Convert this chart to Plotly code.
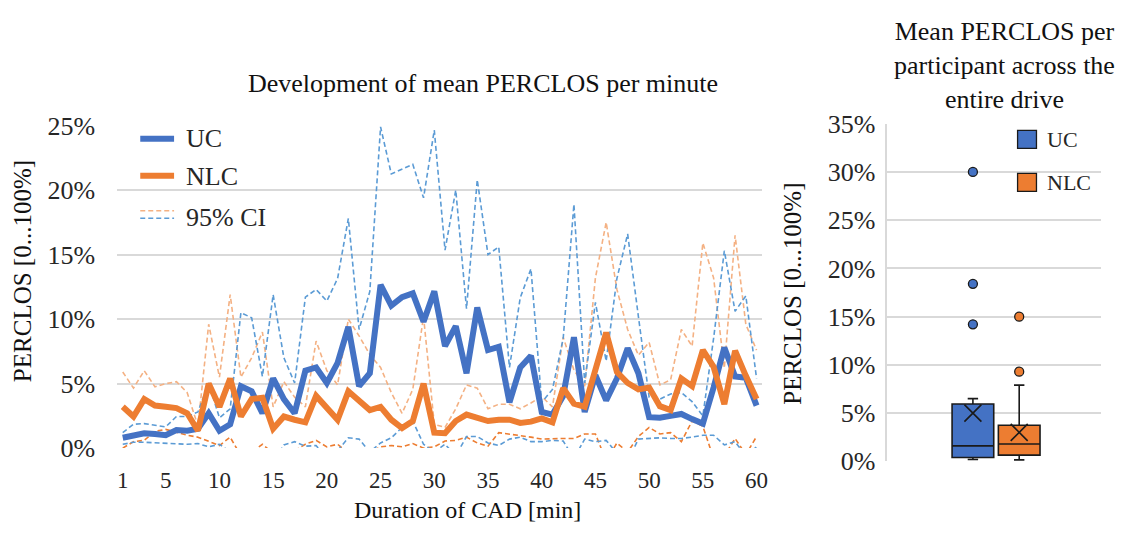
import plotly.graph_objects as go

W, H = 1131, 535
FONT = "Liberation Serif, Times New Roman, serif"
TXT = "#262626"
GRID = "#D9D9D9"
BLUE = "#4472C4"
ORANGE = "#ED7D31"
BLUE_CI = "#5B9BD5"
ORANGE_CI_HI = "#F4B183"

minutes = list(range(1, 61))

uc_mean = [0.8, 1.0, 1.15, 1.1, 1.0, 1.4, 1.35, 1.5, 2.7, 1.35,
           1.85, 4.8, 4.4, 2.7, 5.4, 3.8, 2.7, 6.0, 6.25, 5.05,
           6.6, 9.4, 4.8, 5.8, 12.65, 11.05, 11.7, 12.0, 9.8, 12.15,
           7.9, 9.45, 5.8, 10.9, 7.6, 7.85, 3.55, 6.25, 7.15, 2.8,
           2.6, 4.05, 8.6, 2.8, 5.65, 3.7, 5.4, 7.75, 5.8, 2.4,
           2.35, 2.5, 2.65, 2.25, 1.9, 4.7, 7.8, 5.55, 5.45, 3.3]

nlc_mean = [3.2, 2.45, 3.8, 3.3, 3.2, 3.1, 2.7, 1.35, 5.0, 3.2,
            5.4, 2.45, 3.8, 3.9, 1.5, 2.45, 2.2, 2.0, 4.05, 3.1,
            2.2, 4.4, 3.7, 2.95, 3.2, 2.2, 1.55, 2.1, 5.0, 1.2,
            1.15, 2.1, 2.6, 2.4, 2.1, 2.2, 2.2, 1.95, 2.05, 2.3,
            2.0, 4.65, 3.45, 3.2, 6.25, 8.95, 5.9, 5.05, 4.55, 4.7,
            3.25, 2.95, 5.4, 4.8, 7.6, 6.3, 3.4, 7.55, 5.6, 3.8]

uc_ci_upper = [1.2, 1.85, 1.9, 1.75, 1.65, 2.45, 2.45, 2.8, 5.05, 2.35,
               3.05, 10.5, 10.1, 5.55, 11.9, 7.0, 5.05, 11.7, 12.3, 11.4,
               13.15, 17.8, 9.2, 12.15, 24.9, 21.25, 21.6, 22.0, 19.4, 24.65,
               15.35, 20.0, 10.8, 20.8, 15.0, 15.6, 6.25, 11.65, 13.9, 3.55,
               4.55, 8.5, 18.9, 5.05, 11.3, 6.75, 13.15, 16.6, 10.2, 3.95,
               3.8, 4.2, 4.3, 3.6, 2.5, 8.5, 15.3, 10.6, 11.8, 5.4]

uc_ci_lower = [0.3, 0.45, 0.45, 0.4, 0.35, 0.3, 0.3, 0.35, 0.1, 0.3,
               -0.3, -0.9, -1.3, -0.1, -1.1, 0.25, 0.5, 0.15, 0.2, -0.8,
               -0.2, 0.8, 0.7, -0.3, 0.4, 0.8, 1.6, 2.1, 0.3, -0.3,
               0.3, -0.6, 0.9, 0.9, 0.4, 0.2, 0.7, 0.85, 0.5, 0.5,
               0.6, 0.55, -0.8, 0.7, 0.5, 0.6, -0.4, -1.0, 0.7, 0.75,
               0.8, 0.75, 0.75, 0.85, 1.0, 1.0, 0.25, 0.5, -0.6, 0.1]

nlc_ci_upper = [5.9, 4.65, 6.0, 4.75, 5.0, 5.15, 4.3, 1.7, 9.6, 5.5,
                11.9, 5.5, 7.0, 9.0, 3.2, 5.15, 3.95, 3.2, 8.3, 6.0,
                4.9, 10.0, 8.7, 7.25, 6.25, 4.3, 2.7, 4.55, 10.2, 1.85,
                1.6, 3.05, 4.9, 4.65, 3.05, 3.4, 3.4, 3.05, 3.5, 4.0,
                3.2, 8.6, 6.05, 4.8, 13.2, 17.5, 12.3, 9.2, 7.2, 8.2,
                4.9, 5.3, 9.2, 7.9, 15.9, 13.2, 6.2, 16.5, 9.6, 7.6]

nlc_ci_lower = [0.0, 0.5, 0.6, 1.3, 1.45, 1.2, 1.0, 0.85, 0.5, 0.2,
                0.85, -0.6, -0.3, 0.3, -0.4, -0.3, -0.2, 0.3, 0.6, 0.1,
                0.3, -0.4, -0.5, -0.3, 0.1, 0.2, 0.1, 0.35, 0.0, 0.1,
                0.55, 0.6, 0.85, 0.4, 0.15, 1.2, 1.1, 1.0, 0.85, 0.7,
                0.75, 0.75, 0.75, 1.1, 1.1, -1.0, 0.4, -0.3, 0.9, 1.6,
                1.1, 1.2, 0.5, 2.1, 1.7, -0.8, -0.6, 0.75, -0.5, 0.9]

x_ticks = [1, 5, 10, 15, 20, 25, 30, 35, 40, 45, 50, 55, 60]

# Per-participant summary (box plot statistics, in %)
groups = ["UC", "NLC"]
group_pos = [1, 2]
box_q1 = [0.4, 0.65]
box_median = [1.6, 1.8]
box_q3 = [5.95, 3.75]
box_lower = [0.2, 0.15]
box_upper = [6.5, 7.9]
box_mean = [5.0, 3.0]
uc_outliers = [14.2, 18.4, 30.0]
nlc_outliers = [9.3, 15.0]
box_colors = [BLUE, ORANGE]

CI_DASH = "5px,3px"


def px(x):
    return x / W


def py(y):
    return 1 - y / H


fig = go.Figure()

# confidence bands (dashed)
ci_series = [(nlc_ci_upper, ORANGE_CI_HI), (nlc_ci_lower, ORANGE),
             (uc_ci_upper, BLUE_CI), (uc_ci_lower, BLUE_CI)]
for vals, col in ci_series:
    fig.add_trace(go.Scatter(x=minutes, y=vals, mode="lines",
                             line=dict(color=col, width=1.6, dash=CI_DASH),
                             showlegend=False, xaxis="x", yaxis="y",
                             hoverinfo="skip"))

# mean lines
for vals, col in [(uc_mean, BLUE), (nlc_mean, ORANGE)]:
    fig.add_trace(go.Scatter(x=minutes, y=vals, mode="lines",
                             line=dict(color=col, width=6),
                             showlegend=False, xaxis="x", yaxis="y"))

# box plots
for i, g in enumerate(groups):
    fig.add_trace(go.Box(x=[group_pos[i]], q1=[box_q1[i]], median=[box_median[i]],
                         q3=[box_q3[i]], lowerfence=[box_lower[i]],
                         upperfence=[box_upper[i]], width=0.9,
                         fillcolor=box_colors[i],
                         line=dict(color="#1a1a1a", width=1.6),
                         whiskerwidth=0.25, boxpoints=False,
                         showlegend=False, xaxis="x2", yaxis="y2", name=g))
    fig.add_trace(go.Scatter(x=[group_pos[i]], y=[box_mean[i]], mode="markers",
                             marker=dict(symbol="x-thin", size=17,
                                         line=dict(color="#1a1a1a", width=1.6)),
                             showlegend=False, xaxis="x2", yaxis="y2"))

for pos, vals, col in [(group_pos[0], uc_outliers, BLUE), (group_pos[1], nlc_outliers, ORANGE)]:
    fig.add_trace(go.Scatter(x=[pos] * len(vals), y=vals, mode="markers",
                             marker=dict(symbol="circle", size=9, color=col,
                                         line=dict(color="#1a1a1a", width=1.3)),
                             showlegend=False, xaxis="x2", yaxis="y2"))

shapes = []
annotations = []

# left legend
shapes.append(dict(type="line", xref="paper", yref="paper", x0=px(141), x1=px(175),
                   y0=py(132), y1=py(132), line=dict(color=BLUE, width=6)))
shapes.append(dict(type="line", xref="paper", yref="paper", x0=px(141), x1=px(175),
                   y0=py(171), y1=py(171), line=dict(color=ORANGE, width=6)))
shapes.append(dict(type="line", xref="paper", yref="paper", x0=px(141), x1=px(175),
                   y0=py(208), y1=py(208),
                   line=dict(color=ORANGE_CI_HI, width=1.6, dash=CI_DASH)))
shapes.append(dict(type="line", xref="paper", yref="paper", x0=px(141), x1=px(175),
                   y0=py(216), y1=py(216),
                   line=dict(color=BLUE_CI, width=1.6, dash=CI_DASH)))
for label, yy in [("UC", 132), ("NLC", 172), ("95% CI", 215)]:
    annotations.append(dict(text=label, xref="paper", yref="paper", x=px(185), y=py(yy),
                            xanchor="left", yanchor="middle", showarrow=False,
                            font=dict(family=FONT, size=26, color=TXT)))

# right legend
for (label, col, yy) in [("UC", BLUE, 132.5), ("NLC", ORANGE, 178)]:
    shapes.append(dict(type="rect", xref="paper", yref="paper",
                       x0=px(1023), x1=px(1042), y0=py(yy - 9.5), y1=py(yy + 9.5),
                       fillcolor=col, line=dict(color="#1a1a1a", width=1.3)))
    annotations.append(dict(text=label, xref="paper", yref="paper", x=px(1051), y=py(yy),
                            xanchor="left", yanchor="middle", showarrow=False,
                            font=dict(family=FONT, size=22, color=TXT)))

# titles
annotations.append(dict(text="Development of mean PERCLOS per minute", xref="paper", yref="paper",
                        x=px(486), y=py(73), xanchor="center", yanchor="middle",
                        showarrow=False, font=dict(family=FONT, size=26, color="#111111")))
annotations.append(dict(text="Mean PERCLOS per<br>participant across the<br>entire drive",
                        xref="paper", yref="paper", x=px(1010), y=py(54), xanchor="center",
                        yanchor="middle", showarrow=False, align="center",
                        font=dict(family=FONT, size=26, color="#111111")))
annotations.append(dict(text="Duration of CAD [min]", xref="paper", yref="paper",
                        x=px(470), y=py(524), xanchor="center", yanchor="middle",
                        showarrow=False, font=dict(family=FONT, size=24, color="#111111")))
annotations.append(dict(text="PERCLOS [0...100%]", xref="paper", yref="paper",
                        x=px(22), y=py(272), xanchor="center", yanchor="middle", textangle=-90,
                        showarrow=False, font=dict(family=FONT, size=25, color="#111111")))
annotations.append(dict(text="PERCLOS [0...100%]", xref="paper", yref="paper",
                        x=px(797), y=py(296), xanchor="center", yanchor="middle", textangle=-90,
                        showarrow=False, font=dict(family=FONT, size=25, color="#111111")))

tickfont = dict(family=FONT, size=26, color=TXT)

fig.update_layout(
    width=W, height=H,
    margin=dict(l=0, r=0, t=0, b=0),
    paper_bgcolor="white", plot_bgcolor="white",
    showlegend=False,
    shapes=shapes, annotations=annotations,
    xaxis=dict(domain=[px(118), px(766)], range=[0.5, 60.5], tickvals=x_ticks,
               showgrid=False, zeroline=False, showline=False,
               ticks="outside", ticklen=11, tickcolor="rgba(0,0,0,0)",
               tickfont=dict(family=FONT, size=23, color=TXT), anchor="y"),
    yaxis=dict(domain=[py(459), py(118)], range=[0, 25], dtick=5, ticksuffix="%",
               showgrid=True, gridcolor=GRID, gridwidth=1.5, zeroline=False,
               showline=False, ticks="outside", ticklen=16, tickcolor="rgba(0,0,0,0)",
               tickfont=tickfont, anchor="x"),
    xaxis2=dict(domain=[px(892), px(1107)], range=[-0.85, 3.77], showgrid=False,
                zeroline=False, showline=False, showticklabels=False, anchor="y2"),
    yaxis2=dict(domain=[py(473), py(116)], range=[0, 35], dtick=5, ticksuffix="%",
                showgrid=True, gridcolor=GRID, gridwidth=1.5, zeroline=False,
                showline=True, linecolor=GRID, linewidth=1.5,
                ticks="outside", ticklen=5, tickcolor="rgba(0,0,0,0)",
                tickfont=tickfont, anchor="x2"),
)

fig.write_html("out.html")
